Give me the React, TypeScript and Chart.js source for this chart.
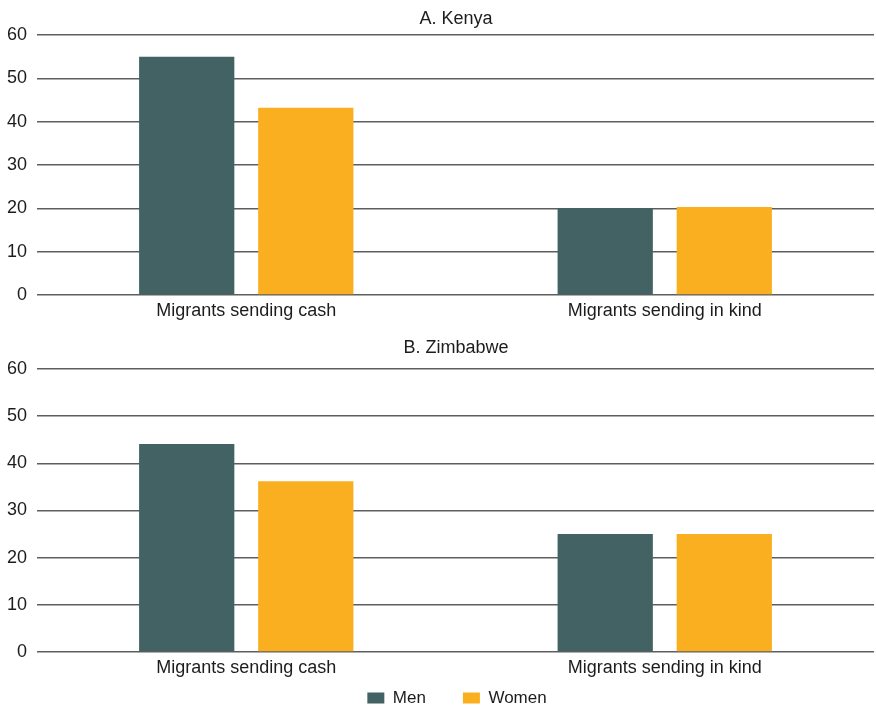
import React, { useEffect, useRef } from "react";
import { Chart, registerables } from "chart.js";

Chart.register(...registerables);

const categories = ["Migrants sending cash", "Migrants sending in kind"];
const seriesNames = ["Men", "Women"];
const kenyaMen = [55, 20.1];
const kenyaWomen = [43.2, 20.3];
const zimbabweMen = [44.1, 25];
const zimbabweWomen = [36.2, 25];
const yMin = 0;
const yMax = 60;
const yStep = 10;

const MEN_COLOR = "#426264";
const WOMEN_COLOR = "#FAAF20";
const TEXT_COLOR = "#1c1c1c";
const GRID_COLOR = "#5e5e5e";
const FONT_FAMILY = "'Liberation Sans', Arial, sans-serif";

type PanelProps = {
  title: string;
  men: number[];
  women: number[];
  width: number;
  height: number;
  top: number;
  titlePadding: { top: number; bottom: number };
  xAxisHeight: number;
  showLegend: boolean;
  legendShiftY: number;
};

function Panel(props: PanelProps) {
  const ref = useRef<HTMLCanvasElement | null>(null);
  useEffect(() => {
    if (!ref.current) return;
    const blockShift = {
      id: "blockShift",
      afterLayout(chart: any) {
        const l = chart.legend;
        if (l && l.options && l.options.display) {
          l.left += 20;
          l.right += 20;
          l.top += props.legendShiftY;
          l.bottom += props.legendShiftY;
        }
        const t = chart.titleBlock;
        if (t) {
          t.left += 19;
          t.right += 19;
        }
      },
    };
    const chart = new Chart(ref.current, {
      type: "bar",
      data: {
        labels: categories,
        datasets: [
          {
            label: seriesNames[0],
            data: props.men,
            backgroundColor: MEN_COLOR,
            borderWidth: 0,
            barPercentage: 0.8,
            categoryPercentage: 0.569,
          },
          {
            label: seriesNames[1],
            data: props.women,
            backgroundColor: WOMEN_COLOR,
            borderWidth: 0,
            barPercentage: 0.8,
            categoryPercentage: 0.569,
          },
        ],
      },
      options: {
        animation: false,
        responsive: false,
        devicePixelRatio: 1,
        layout: { padding: { left: 0, right: 2, top: 0, bottom: 0 } },
        plugins: {
          title: {
            display: true,
            text: props.title,
            color: TEXT_COLOR,
            font: { family: FONT_FAMILY, size: 18, weight: "normal" },
            padding: props.titlePadding,
          },
          legend: {
            display: props.showLegend,
            position: "bottom",
            labels: {
              boxWidth: 17,
              boxHeight: 11,
              padding: 37,
              color: TEXT_COLOR,
              font: { family: FONT_FAMILY, size: 17 },
            },
          },
          tooltip: { enabled: false },
        },
        scales: {
          x: {
            grid: { display: false, drawTicks: false },
            border: { display: false },
            ticks: {
              color: TEXT_COLOR,
              padding: 5,
              font: { family: FONT_FAMILY, size: 18 },
            },
            afterFit(scale: any) {
              scale.height = props.xAxisHeight;
            },
          },
          y: {
            min: yMin,
            max: yMax,
            grid: { color: GRID_COLOR, lineWidth: 1.5, drawTicks: false },
            border: { display: false },
            ticks: {
              stepSize: yStep,
              color: TEXT_COLOR,
              padding: 10,
              font: { family: FONT_FAMILY, size: 18 },
            },
            afterFit(scale: any) {
              scale.width = 37;
            },
          },
        },
      },
      plugins: [blockShift],
    } as any);
    return () => chart.destroy();
  }, []);
  return (
    <div style={{ position: "absolute", left: 0, top: props.top, width: props.width, height: props.height }}>
      <canvas ref={ref} width={props.width} height={props.height} style={{ display: "block" }} />
    </div>
  );
}

export default function App() {
  return (
    <div
      style={{
        position: "absolute",
        left: 0,
        top: 0,
        width: 876,
        height: 706,
        overflow: "hidden",
        background: "#ffffff",
      }}
    >
      <Panel
        title="A. Kenya"
        men={kenyaMen}
        women={kenyaWomen}
        width={876}
        height={322}
        top={0}
        titlePadding={{ top: 8.6, bottom: 4.8 }}
        xAxisHeight={27}
        showLegend={false}
        legendShiftY={0}
      />
      <Panel
        title="B. Zimbabwe"
        men={zimbabweMen}
        women={zimbabweWomen}
        width={876}
        height={421}
        top={322}
        titlePadding={{ top: 15.2, bottom: 10.2 }}
        xAxisHeight={27}
        showLegend={true}
        legendShiftY={-26.5}
      />
    </div>
  );
}
